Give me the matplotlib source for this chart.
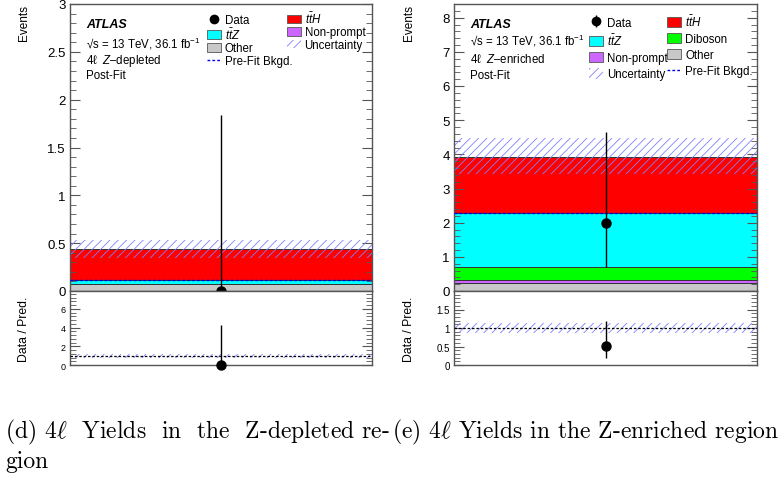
"""
plot.py - ATLAS-style 4l post-fit yield plots (Z-depleted / Z-enriched).
"""

import numpy as np
import matplotlib
matplotlib.use("Agg")
import matplotlib.pyplot as plt
from matplotlib.patches import Patch
from matplotlib.lines import Line2D
from matplotlib.ticker import MultipleLocator

plt.rcParams["font.family"] = ["Liberation Sans", "DejaVu Sans"]
plt.rcParams["mathtext.fontset"] = "custom"
plt.rcParams["mathtext.rm"] = "Liberation Sans"
plt.rcParams["mathtext.it"] = "Liberation Sans:italic"
plt.rcParams["mathtext.bf"] = "Liberation Sans:bold"
plt.rcParams["hatch.linewidth"] = 0.6

# ──────────────────────────────────────────────────────────────────────
# DATA (one bin per region)
# ──────────────────────────────────────────────────────────────────────

# Z-depleted: stack bottom -> top
dep_names = ["Other", "ttZ", "ttH"]
dep_yields = [0.075, 0.035, 0.326]
dep_unc = [0.34, 0.535]          # total-prediction band (low, high)
dep_prefit = 0.115
dep_data = 0
dep_data_err = [0.0, 1.84]

# Z-enriched: stack bottom -> top
enr_names = ["Other", "Non-prompt", "Diboson", "ttZ", "ttH"]
enr_yields = [0.22, 0.09, 0.39, 1.58, 1.65]
enr_unc = [3.42, 4.47]
enr_prefit = 2.28
enr_data = 2
enr_data_err = [1.29, 2.64]

COLORS = {
    "Other": "#c8c8c8",
    "Non-prompt": "#cc66ff",
    "Diboson": "#00ff00",
    "ttZ": "#00ffff",
    "ttH": "#ff0000",
}
LABELS = {
    "ttZ": r"$t\bar{t}Z$",
    "ttH": r"$t\bar{t}H$",
}
UNC_COLOR = "#8080ff"
FRAME = "#555555"


# ──────────────────────────────────────────────────────────────────────
# HELPERS
# ──────────────────────────────────────────────────────────────────────

def style_axis(ax, major, minor, labelsize):
    ax.set_xlim(0, 1)
    ax.set_xticks([])
    ax.yaxis.set_major_locator(MultipleLocator(major))
    ax.yaxis.set_minor_locator(MultipleLocator(minor))
    ax.tick_params(axis="y", which="both", direction="in", left=True, right=True,
                   color=FRAME, labelsize=labelsize, pad=3)
    ax.tick_params(axis="y", which="major", length=7, width=0.8)
    ax.tick_params(axis="y", which="minor", length=4, width=0.6)
    for sp in ax.spines.values():
        sp.set_color(FRAME)
        sp.set_linewidth(1.0)


def draw_main(ax, names, yields, unc, prefit, data, data_err):
    bottom = 0.0
    for name, y in zip(names, yields):
        ax.bar(0, y, width=1, bottom=bottom, align="edge", color=COLORS[name],
               edgecolor="#333333", linewidth=0.7, zorder=1)
        bottom += y
    ax.fill_between([0, 1], unc[0], unc[1], facecolor="none", edgecolor=UNC_COLOR,
                    hatch="////", linewidth=0, zorder=2)
    ax.plot([0, 1], [prefit, prefit], color="#0000ee", ls=(0, (2, 1.5)), lw=1.0, zorder=3)
    ax.errorbar([0.5], [data], yerr=[[data_err[0]], [data_err[1]]], fmt="o",
                color="black", ms=6.5, elinewidth=1.0, capsize=0, zorder=5,
                clip_on=False)
    return bottom


def draw_ratio(ax, total, unc, data, data_err):
    ax.fill_between([0, 1], unc[0] / total, unc[1] / total, facecolor="none",
                    edgecolor=UNC_COLOR, hatch="////", linewidth=0, zorder=2)
    ax.axhline(1, color="black", ls=(0, (2, 1.5)), lw=0.9, zorder=3)
    ax.errorbar([0.5], [data / total],
                yerr=[[data_err[0] / total], [data_err[1] / total]], fmt="o",
                color="black", ms=6.5, elinewidth=1.0, capsize=0, zorder=5,
                clip_on=False)


def add_text(ax, lines, x, ys):
    ax.text(x, ys[0], "ATLAS", transform=ax.transAxes, fontsize=9,
            fontweight="bold", fontstyle="italic", va="center")
    for txt, y in zip(lines, ys[1:]):
        ax.text(x, y, txt, transform=ax.transAxes, fontsize=8.3, va="center")


unc_handle = Patch(facecolor="none", edgecolor=UNC_COLOR, hatch="////", linewidth=0)
prefit_handle = Line2D([], [], color="#0000ee", ls=(0, (2, 1.5)), lw=1.0)


def patch(name):
    return Patch(facecolor=COLORS[name], edgecolor="#555555", linewidth=0.6)


# ──────────────────────────────────────────────────────────────────────
# FIGURE
# ──────────────────────────────────────────────────────────────────────

W, H = 778, 481
fig = plt.figure(figsize=(W / 100, H / 100), dpi=100)


def frac(x0, x1, ytop, ybot):
    return [x0 / W, 1 - ybot / H, (x1 - x0) / W, (ybot - ytop) / H]


axL = fig.add_axes(frac(70, 372, 5, 292))
axLr = fig.add_axes(frac(70, 372, 292, 366))
axR = fig.add_axes(frac(454, 757, 5, 292))
axRr = fig.add_axes(frac(454, 757, 292, 366))

# Z-depleted
totL = draw_main(axL, dep_names, dep_yields, dep_unc, dep_prefit, dep_data, dep_data_err)
axL.set_ylim(0, 3.0)
style_axis(axL, 0.5, 0.1, 9.5)
axL.set_yticks([0, 0.5, 1, 1.5, 2, 2.5, 3])
axL.set_yticklabels(["0", "0.5", "1", "1.5", "2", "2.5", "3"])
draw_ratio(axLr, totL, dep_unc, dep_data, dep_data_err)
axLr.set_ylim(0, 7.9)
style_axis(axLr, 2, 0.4, 6.5)

# Z-enriched
totR = draw_main(axR, enr_names, enr_yields, enr_unc, enr_prefit, enr_data, enr_data_err)
axR.set_ylim(0, 8.4)
style_axis(axR, 1, 0.2, 9.5)
draw_ratio(axRr, totR, enr_unc, enr_data, enr_data_err)
axRr.set_ylim(0, 2.0)
style_axis(axRr, 0.5, 0.1, 7)
axRr.set_yticks([0, 0.5, 1, 1.5])
axRr.set_yticklabels(["0", "0.5", "1", "1.5"])

for ax in (axL, axR):
    ax.set_ylabel("Events", fontsize=8.5, loc="top")
for ax in (axLr, axRr):
    ax.set_ylabel("Data / Pred.", fontsize=8.8)
axL.yaxis.set_label_coords(-0.132, 1.0)
axR.yaxis.set_label_coords(-0.129, 1.0)
axLr.yaxis.set_label_coords(-0.132, 0.5)
axRr.yaxis.set_label_coords(-0.129, 0.5)

# text blocks
add_text(axL, [r"√s = 13 TeV, 36.1 fb$^{\mathregular{-1}}$",
               r"4ℓ  $Z$–depleted", "Post-Fit"],
         0.053, [0.932, 0.866, 0.806, 0.753])
add_text(axR, [r"√s = 13 TeV, 36.1 fb$^{\mathregular{-1}}$",
               r"4ℓ  $Z$–enriched", "Post-Fit"],
         0.053, [0.932, 0.875, 0.81, 0.753])

# legends (column-major order)
data_dot = Line2D([], [], marker="o", color="black", ls="none", ms=6)
hL = [data_dot, patch("ttZ"), patch("Other"), prefit_handle,
      patch("ttH"), patch("Non-prompt"), unc_handle]
lL = ["Data", LABELS["ttZ"], "Other", "Pre-Fit Bkgd.",
      LABELS["ttH"], "Non-prompt", "Uncertainty"]
axL.legend(hL, lL, ncol=2, loc="upper left", bbox_to_anchor=(0.427, 1.005),
           frameon=False, fontsize=8.3, handlelength=1.2, handleheight=0.8,
           handletextpad=0.35, columnspacing=-0.5, labelspacing=0.05,
           borderaxespad=0.3)

data_bar = axR.errorbar([], [], yerr=[], fmt="o", color="black", ms=6, elinewidth=1.0)
hR = [data_bar, patch("ttZ"), patch("Non-prompt"), unc_handle,
      patch("ttH"), patch("Diboson"), patch("Other"), prefit_handle]
lR = ["Data", LABELS["ttZ"], "Non-prompt", "Uncertainty",
      LABELS["ttH"], "Diboson", "Other", "Pre-Fit Bkgd."]
axR.legend(hR, lR, ncol=2, loc="upper left", bbox_to_anchor=(0.42, 0.995),
           frameon=False, fontsize=8.3, handlelength=1.2, handleheight=1.0,
           handletextpad=0.35, columnspacing=-0.06, labelspacing=0.35,
           borderaxespad=0.3)

# captions
cap_kw = dict(fontsize=17, family="cmr10", math_fontfamily="cm", va="center")
fig.text(5 / W, 1 - 432 / H, r"(d) 4$\ell$  Yields  in  the  Z-depleted re-", **cap_kw)
fig.text(5 / W, 1 - 462 / H, "gion", **cap_kw)
fig.text(392 / W, 1 - 432 / H, r"(e) 4$\ell$ Yields in the Z-enriched region", **cap_kw)

fig.savefig("out.png", dpi=100)
